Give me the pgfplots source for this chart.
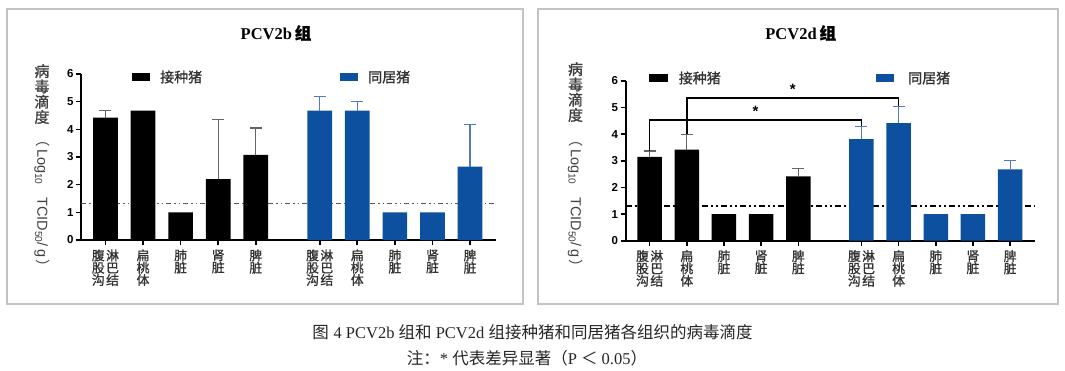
\documentclass[border=0pt]{standalone}
\usepackage{fontspec}
\setmainfont{Liberation Sans}
\newfontfamily\cjk{Noto Sans CJK SC}
\newfontfamily\cjkb[FakeBold=1.2]{Noto Sans CJK SC}
\newfontfamily\serif{Liberation Serif}
\usepackage{pgfplots}
\pgfplotsset{compat=1.18}
\definecolor{barblue}{RGB}{14,80,160}
\definecolor{errblue}{RGB}{85,120,190}
\definecolor{errgray}{RGB}{100,100,100}
\definecolor{boxgray}{RGB}{195,195,195}
\newcommand\tickfont{\fontsize{11.5pt}{12pt}\selectfont\bfseries}
\newcommand\catfont{\cjkb\fontsize{12.8pt}{12.3pt}\selectfont}
\newcommand\legfont{\cjkb\fontsize{14pt}{15pt}\selectfont}
\pgfplotsset{
  panel/.style={
    scale only axis, clip=false,
    anchor=south west,
    ymin=0, ymax=6, ytick={0,1,2,3,4,5,6},
    xmin=-0.65,
    axis x line=bottom, axis y line=left,
    axis line style={-, line width=2pt, black},
    tick align=outside, major tick length=5pt,
    tick style={line width=1.6pt, black},
    /pgf/number format/assume math mode=true,
    yticklabel style={font=\tickfont, xshift=1pt},
    xtick={0,1,2,3,4,5.7,6.7,7.7,8.7,9.7},
    xticklabels={{腹\hspace{1.5pt}淋\\股\hspace{1.5pt}巴\\沟\hspace{1.5pt}结},{扁\\桃\\体},{肺\\脏},{肾\\脏},{脾\\脏},{腹\hspace{1.5pt}淋\\股\hspace{1.5pt}巴\\沟\hspace{1.5pt}结},{扁\\桃\\体},{肺\\脏},{肾\\脏},{脾\\脏}},
    xticklabel style={font=\catfont, align=center, text=black!80, yshift=-1pt},
  },
  blkbar/.style={ybar, bar shift=0pt, fill=black, draw=none},
  blubar/.style={ybar, bar shift=0pt, fill=barblue, draw=none},
  blkerr/.style={error bars/.cd, y dir=plus, y explicit,
     error bar style={errgray, line width=1.2pt},
     error mark options={rotate=90, errgray, line width=1.2pt, mark size=6pt}},
  bluerr/.style={error bars/.cd, y dir=plus, y explicit,
     error bar style={errblue, line width=1.2pt},
     error mark options={rotate=90, errblue, line width=1.2pt, mark size=6pt}},
}
\begin{document}
\begin{tikzpicture}
\useasboundingbox (0pt,0pt) rectangle (1065pt,370pt);
% panel frames
\draw[boxgray, line width=1.6pt] (7pt,361pt) rectangle (523pt,66pt);
\draw[boxgray, line width=1.6pt] (538pt,361pt) rectangle (1058pt,66pt);

% ---------------- left panel ----------------
\begin{axis}[panel, at={(81pt,130pt)}, width=415pt, height=166pt, xmax=10.39]
\addplot[draw=black!65, line width=1.4pt, dash pattern=on 5pt off 3pt on 1.5pt off 3pt on 1.5pt off 3pt] coordinates {(-0.65,1.32) (10.39,1.32)};
% black bars with error
\addplot[blkbar, bar width=24.7pt, blkerr] coordinates {(0,4.42) +- (0,0.26) (3,2.2) +- (0,2.15) (4,3.08) +- (0,0.97)};
\addplot[blkbar, bar width=24.7pt] coordinates {(1,4.68) (2,1.0)};
% blue bars with error
\addplot[blubar, bar width=24.7pt, bluerr] coordinates {(5.7,4.68) +- (0,0.52) (6.7,4.68) +- (0,0.32) (9.7,2.65) +- (0,1.53)};
\addplot[blubar, bar width=24.7pt] coordinates {(7.7,1.0) (8.7,1.0)};
\end{axis}

% ---------------- right panel ----------------
\begin{axis}[panel, at={(625.5pt,129.3pt)}, width=409.5pt, height=159.7pt, xmax=10.37]
\addplot[draw=black, line width=2pt, dash pattern=on 6pt off 3pt on 2pt off 3pt on 2pt off 3pt] coordinates {(-0.64,1.32) (10.37,1.32)};
\addplot[blkbar, bar width=24.5pt, blkerr] coordinates {(0,3.15) +- (0,0.22) (1,3.42) +- (0,0.58) (4,2.42) +- (0,0.3)};
\addplot[blkbar, bar width=24.5pt] coordinates {(2,1.0) (3,1.0)};
\addplot[blubar, bar width=24.5pt, bluerr] coordinates {(5.7,3.82) +- (0,0.46) (6.7,4.42) +- (0,0.63) (9.7,2.68) +- (0,0.32)};
\addplot[blubar, bar width=24.5pt] coordinates {(7.7,1.0) (8.7,1.0)};
% significance brackets
\addplot[black, line width=1.5pt] coordinates {(0,3.38) (0,4.53) (5.7,4.53) (5.7,4.3)};
\addplot[black, line width=1.5pt] coordinates {(1,4.02) (1,5.37) (6.7,5.37) (6.7,5.07)};
\node[font=\fontsize{15pt}{15pt}\selectfont\bfseries] at (axis cs:2.85,4.86) {*};
\node[font=\fontsize{15pt}{15pt}\selectfont\bfseries] at (axis cs:3.85,5.69) {*};
\end{axis}

% titles
\node[font=\fontsize{16.5pt}{18pt}\selectfont] at (276pt,337pt) {\serif\bfseries PCV2b\,{\cjkb 组}};
\node[font=\fontsize{16.5pt}{18pt}\selectfont] at (800.7pt,337pt) {\serif\bfseries PCV2d\,{\cjkb 组}};

% legends
\fill[black] (132pt,289pt) rectangle (150pt,297pt);
\node[font=\legfont, anchor=west, inner sep=0pt, text=black!80] at (160pt,293pt) {接种猪};
\fill[barblue] (339.5pt,289pt) rectangle (358pt,297pt);
\node[font=\legfont, anchor=west, inner sep=0pt, text=black!80] at (368pt,293pt) {同居猪};
\fill[black] (649pt,288pt) rectangle (668pt,296pt);
\node[font=\legfont, anchor=west, inner sep=0pt, text=black!80] at (678.6pt,292pt) {接种猪};
\fill[barblue] (876pt,288pt) rectangle (894pt,296pt);
\node[font=\legfont, anchor=west, inner sep=0pt, text=black!80] at (908pt,292pt) {同居猪};

% y labels
\node[font=\cjkb\fontsize{15pt}{15.3pt}\selectfont, align=center, anchor=north, inner sep=0pt, text=black!75] at (42pt,306pt) {病\\毒\\滴\\度};
\node[font=\fontsize{14.5pt}{15pt}\selectfont, rotate=-90, anchor=west, inner sep=0pt, text=black!75] at (42pt,238pt) {{\cjk（}\,Log\textsubscript{10}\ \ \ TCID\textsubscript{50}/\,g\,{\cjk）}};
\node[font=\cjkb\fontsize{15pt}{15.3pt}\selectfont, align=center, anchor=north, inner sep=0pt, text=black!75] at (575.5pt,308pt) {病\\毒\\滴\\度};
\node[font=\fontsize{14.5pt}{15pt}\selectfont, rotate=-90, anchor=west, inner sep=0pt, text=black!75] at (575.5pt,238pt) {{\cjk（}\,Log\textsubscript{10}\ \ \ TCID\textsubscript{50}/\,g\,{\cjk）}};

% caption
\node[font=\fontsize{16.5pt}{18pt}\selectfont, text=black!85] at (532.5pt,38pt) {{\cjk 图} \serif 4 PCV2b {\cjk 组和} PCV2d {\cjk 组接种猪和同居猪各组织的病毒滴度}};
\node[font=\fontsize{16.5pt}{18pt}\selectfont, text=black!85] at (527pt,12pt) {{\cjk 注：}\serif * {\cjk 代表差异显著（}P {\cjk ＜} 0.05{\cjk ）}};
\end{tikzpicture}
\end{document}
